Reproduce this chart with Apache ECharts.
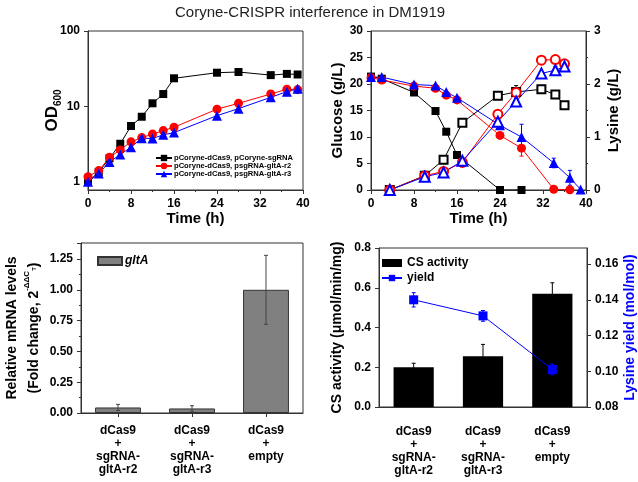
<!DOCTYPE html>
<html><head><meta charset="utf-8">
<script src="https://cdn.jsdelivr.net/npm/echarts@6/dist/echarts.min.js"></script>
<style>html,body{margin:0;padding:0;background:#fff}#c{width:638px;height:482px}</style>
</head><body><div id="c"></div>
<script>
const FONT = '"Liberation Sans", Arial, sans-serif';

// ---- Panel A: growth (OD600, log scale)
const timeA = [0, 2, 4, 6, 8, 10, 12, 14, 16, 24, 28, 34, 37, 39];
const odCtrl = [1.0, 1.35, 2.05, 3.2, 5.5, 7.3, 11, 14.6, 23.6, 28, 28.6, 26, 27, 26.5];
const odR2   = [1.17, 1.41, 2.12, 2.65, 3.39, 3.86, 4.3, 4.78, 5.3, 9.2, 11, 14.6, 16.9, 16.7];
const odR3   = [1.0, 1.29, 1.84, 2.3, 2.88, 3.8, 3.75, 4.2, 4.5, 7.55, 9.35, 13.2, 15.7, 17.2];
const odR3Err = [0, 0, 0, 0, 0, 0, 0, 0, 0, 0, 0, 0, 1.8, 1.5];
const namesA = ['pCoryne-dCas9, pCoryne-sgRNA', 'pCoryne-dCas9, psgRNA-gltA-r2', 'pCoryne-dCas9, psgRNA-gltA-r3'];

// ---- Panel B: glucose (filled) and lysine (open)
const tGluCtrl = [0, 2, 8, 12, 14, 16, 24, 28];
const gluCtrl  = [21.4, 21.0, 18.4, 14.9, 11.0, 6.6, 0, 0];
const tGluR2 = [0, 2, 8, 12, 14, 16, 24, 28, 34, 37];
const gluR2  = [21.2, 20.75, 19.6, 19.2, 17.9, 17.0, 10.3, 7.9, 0.15, 0.05];
const gluR2Err = [0, 0, 0, 0, 0, 0, 0.5, 1.5, 0, 0];
const tGluR3 = [0, 2, 8, 12, 14, 16, 24, 28, 34, 37, 39];
const gluR3  = [21.3, 21.3, 19.9, 19.7, 18.5, 17.4, 12.2, 10.0, 5.1, 2.3, 0.1];
const gluR3Err = [0, 0, 0, 0, 0, 0, 0.4, 2.4, 0.9, 1.4, 0];
const tLys = [3.5, 10, 13.5, 17, 23.6, 27, 31.7, 34.3, 36];
const lysCtrl = [0, 0.27, 0.57, 1.27, 1.78, 1.85, 1.9, 1.8, 1.6];
const lysCtrlErr = [0, 0, 0.03, 0.03, 0, 0.12, 0, 0, 0];
const lysR2 = [0, 0.27, 0.35, 0.52, 1.43, 1.84, 2.45, 2.46, 2.38];
const lysR2Err = [0, 0.03, 0, 0.04, 0, 0, 0, 0, 0.06];
const lysR3 = [0, 0.25, 0.33, 0.55, 1.29, 1.67, 2.2, 2.26, 2.33];
const lysR3Err = [0, 0.04, 0.03, 0, 0, 0, 0, 0.07, 0.07];

// ---- Panel C: relative mRNA levels
const strains = ['dCas9\n+\nsgRNA-\ngltA-r2', 'dCas9\n+\nsgRNA-\ngltA-r3', 'dCas9\n+\nempty'];
const mrna = [0.045, 0.037, 1.0];
const mrnaErr = [0.025, 0.022, 0.28];

// ---- Panel D: CS activity and lysine yield
const csAct = [0.2, 0.255, 0.57];
const csErr = [0.02, 0.06, 0.055];
const lysYield = [0.140, 0.131, 0.101];
const lysYieldErr = [0.004, 0.003, 0.003];

const BLACK = '#000000', RED = '#ff0000', BLUE = '#0000ff', AXC = '#333333';

function pairs(xs, ys) { return xs.map((x, i) => [x, ys[i]]); }
function triples(xs, ys, es) { return xs.map((x, i) => [x, ys[i], es[i]]); }

function errBars(xi, yi, data, color, cap, z) {
  return {
    type: 'custom', xAxisIndex: xi, yAxisIndex: yi, silent: true, z: z || 3,
    encode: { x: 0, y: 1 },
    renderItem: function (params, api) {
      const x = api.value(0), y = api.value(1), e = api.value(2);
      if (!e) return null;
      const p1 = api.coord([x, y + e]);
      const p2 = api.coord([x, y - e]);
      const st = { stroke: color, lineWidth: 1 };
      return { type: 'group', children: [
        { type: 'line', shape: { x1: p1[0], y1: p1[1], x2: p2[0], y2: p2[1] }, style: st },
        { type: 'line', shape: { x1: p1[0] - cap, y1: p1[1], x2: p1[0] + cap, y2: p1[1] }, style: st },
        { type: 'line', shape: { x1: p2[0] - cap, y1: p2[1], x2: p2[0] + cap, y2: p2[1] }, style: st }
      ]};
    },
    data: data
  };
}

const lbl = { color: '#000', fontWeight: 'bold', fontSize: 12, fontFamily: FONT };
const axLine = { show: true, lineStyle: { color: AXC, width: 1 } };
const tick = { show: true, length: 4, lineStyle: { color: AXC } };
const minor = { show: true, splitNumber: 2, length: 2, lineStyle: { color: AXC } };
const nameStyle = { color: '#000', fontWeight: 'bold', fontSize: 15, fontFamily: FONT };
const gridBox = { show: true, borderColor: AXC, borderWidth: 1, backgroundColor: 'transparent' };

function lineSeries(name, xi, yi, data, color, symbol, size) {
  return {
    type: 'line', name, xAxisIndex: xi, yAxisIndex: yi, data,
    symbol, symbolSize: size,
    lineStyle: { color, width: 1 },
    itemStyle: { color, borderColor: color, borderWidth: symbol.indexOf('empty') === 0 ? 1.2 : 0 },
    z: 4
  };
}

const option = {
  animation: false,
  backgroundColor: '#ffffff',
  title: {
    text: 'Coryne-CRISPR interference in DM1919',
    left: 170, top: 0,
    textStyle: { fontSize: 15, fontWeight: 'normal', color: '#222', fontFamily: FONT }
  },
  grid: [
    Object.assign({ left: 88, top: 31, width: 215, height: 159 }, gridBox),
    Object.assign({ left: 371, top: 31, width: 215, height: 159 }, gridBox),
    Object.assign({ left: 77, top: 243, width: 226, height: 170 }, gridBox),
    Object.assign({ left: 379, top: 248, width: 208, height: 159 }, gridBox)
  ],
  legend: [
    {
      data: namesA, left: 150, top: 149, orient: 'vertical', itemGap: 0,
      itemWidth: 16, itemHeight: 8,
      textStyle: { fontSize: 7.6, fontWeight: 'bold', color: '#000', fontFamily: FONT, padding: [0, 0, 0, -3] }
    },
    {
      data: [{ name: 'gltA', icon: 'rect' }], left: 92, top: 250, itemWidth: 24, itemHeight: 8,
      textStyle: { fontSize: 12, fontWeight: 'bold', fontStyle: 'italic', color: '#000', fontFamily: FONT, padding: [0, 0, 0, -2] }
    },
    {
      data: [{ name: 'CS activity', icon: 'rect' }, { name: 'yield' }], left: 376, top: 252,
      orient: 'vertical', itemGap: 3, itemWidth: 20, itemHeight: 8,
      textStyle: { fontSize: 12, fontWeight: 'bold', color: '#000', fontFamily: FONT }
    }
  ],
  xAxis: [
    { gridIndex: 0, type: 'value', min: 0, max: 40, interval: 8, axisLine: axLine, axisTick: tick,
      minorTick: minor, splitLine: { show: false }, axisLabel: lbl,
      name: 'Time (h)', nameLocation: 'middle', nameGap: 20, nameTextStyle: nameStyle },
    { gridIndex: 1, type: 'value', min: 0, max: 40, interval: 8, axisLine: axLine, axisTick: tick,
      minorTick: minor, splitLine: { show: false }, axisLabel: lbl,
      name: 'Time (h)', nameLocation: 'middle', nameGap: 20, nameTextStyle: nameStyle },
    { gridIndex: 2, type: 'category', data: strains, axisLine: axLine,
      axisTick: { show: true, alignWithLabel: true, length: 4, lineStyle: { color: AXC } },
      axisLabel: Object.assign({}, lbl, { interval: 0, lineHeight: 13, margin: 11 }) },
    { gridIndex: 3, type: 'category', data: strains, axisLine: axLine,
      axisTick: { show: false },
      axisLabel: Object.assign({}, lbl, { interval: 0, lineHeight: 13, margin: 18 }) }
  ],
  yAxis: [
    { gridIndex: 0, type: 'log', logBase: 10, min: 0.78, max: 100, axisLine: axLine, axisTick: tick,
      splitLine: { show: false }, axisLabel: Object.assign({}, lbl, { showMinLabel: false }),
      name: '{a|OD}{b|600}', nameLocation: 'middle', nameGap: 25, nameMoveOverlap: false,
      nameTextStyle: { rich: {
        a: { fontSize: 17, fontWeight: 'bold', color: '#000', fontFamily: FONT, lineHeight: 22 },
        b: { fontSize: 10, fontWeight: 'bold', color: '#000', fontFamily: FONT, verticalAlign: 'bottom', lineHeight: 22 } } } },
    { gridIndex: 1, type: 'value', min: 0, max: 30, interval: 5, axisLine: axLine, axisTick: tick,
      splitLine: { show: false }, axisLabel: lbl,
      name: 'Glucose (g/L)', nameLocation: 'middle', nameGap: 20, nameTextStyle: nameStyle },
    { gridIndex: 1, type: 'value', position: 'right', min: 0, max: 3, interval: 1, axisLine: axLine, axisTick: tick,
      minorTick: minor, splitLine: { show: false }, axisLabel: lbl,
      name: 'Lysine (g/L)', nameLocation: 'middle', nameGap: 20, nameTextStyle: nameStyle },
    { gridIndex: 2, type: 'value', min: 0, max: 1.38, interval: 0.25, axisLine: axLine, axisTick: tick,
      minorTick: minor, splitLine: { show: false },
      axisLabel: Object.assign({}, lbl, { showMaxLabel: false, formatter: v => v.toFixed(2) }),
      name: 'Relative mRNA levels\n(Fold change, 2{s|-ΔΔC}{t|T}{n|)}', nameLocation: 'middle', nameGap: 36,
      nameTextStyle: { color: '#000', fontWeight: 'bold', fontSize: 14, fontFamily: FONT, lineHeight: 22,
        rich: {
          s: { fontSize: 8, fontWeight: 'bold', color: '#000', fontFamily: FONT, verticalAlign: 'top', lineHeight: 20 },
          t: { fontSize: 6, fontWeight: 'bold', color: '#000', fontFamily: FONT, verticalAlign: 'middle', lineHeight: 20 },
          n: { fontSize: 14, fontWeight: 'bold', color: '#000', fontFamily: FONT, lineHeight: 20 } } } },
    { gridIndex: 3, type: 'value', min: 0, max: 0.8, interval: 0.2, axisLine: axLine, axisTick: tick,
      splitLine: { show: false }, axisLabel: Object.assign({}, lbl, { formatter: v => v.toFixed(1) }),
      name: 'CS activity (μmol/min/mg)', nameLocation: 'middle', nameGap: 35,
      nameTextStyle: Object.assign({}, nameStyle, { fontSize: 14 }) },
    { gridIndex: 3, type: 'value', position: 'right', min: 0.08, max: 0.169, interval: 0.02, axisLine: axLine, axisTick: tick,
      splitLine: { show: false }, axisLabel: Object.assign({}, lbl, { showMaxLabel: false, formatter: v => v.toFixed(2) }),
      name: 'Lysine yield (mol/mol)', nameLocation: 'middle', nameGap: 36,
      nameTextStyle: Object.assign({}, nameStyle, { fontSize: 14, color: BLUE }) }
  ],
  series: [
    // Panel A
    lineSeries(namesA[0], 0, 0, pairs(timeA, odCtrl), BLACK, 'rect', 8),
    lineSeries(namesA[1], 0, 0, pairs(timeA, odR2), RED, 'circle', 9),
    lineSeries(namesA[2], 0, 0, pairs(timeA, odR3), BLUE, 'triangle', 10),
    errBars(0, 0, triples(timeA, odR3, odR3Err), BLUE, 2),
    // Panel B glucose
    lineSeries('Glucose ctrl', 1, 1, pairs(tGluCtrl, gluCtrl), BLACK, 'rect', 8),
    lineSeries('Glucose r2', 1, 1, pairs(tGluR2, gluR2), RED, 'circle', 9),
    lineSeries('Glucose r3', 1, 1, pairs(tGluR3, gluR3), BLUE, 'triangle', 10),
    errBars(1, 1, triples(tGluR2, gluR2, gluR2Err), RED, 2),
    errBars(1, 1, triples(tGluR3, gluR3, gluR3Err), BLUE, 2),
    // Panel B lysine
    lineSeries('Lysine ctrl', 1, 2, pairs(tLys, lysCtrl), BLACK, 'emptyRect', 8),
    lineSeries('Lysine r2', 1, 2, pairs(tLys, lysR2), RED, 'emptyCircle', 9),
    lineSeries('Lysine r3', 1, 2, pairs(tLys, lysR3), BLUE, 'emptyTriangle', 10),
    errBars(1, 2, triples(tLys, lysCtrl, lysCtrlErr), BLACK, 2),
    errBars(1, 2, triples(tLys, lysR2, lysR2Err), RED, 2),
    errBars(1, 2, triples(tLys, lysR3, lysR3Err), BLUE, 2),
    // Panel C
    { type: 'bar', name: 'gltA', xAxisIndex: 2, yAxisIndex: 3, data: mrna, barWidth: '62%',
      itemStyle: { color: '#808080', borderColor: '#333', borderWidth: 1 } },
    errBars(2, 3, triples([0, 1, 2], mrna, mrnaErr), '#444', 2),
    // Panel D
    { type: 'bar', name: 'CS activity', xAxisIndex: 3, yAxisIndex: 4, data: csAct, barWidth: '58%',
      itemStyle: { color: '#000' } },
    errBars(3, 4, triples([0, 1, 2], csAct, csErr), '#000', 2, 1),
    { type: 'line', name: 'yield', xAxisIndex: 3, yAxisIndex: 5, data: lysYield,
      symbol: 'rect', symbolSize: 9, lineStyle: { color: BLUE, width: 1 }, itemStyle: { color: BLUE }, z: 5 },
    errBars(3, 5, triples([0, 1, 2], lysYield, lysYieldErr), BLUE, 2, 4)
  ]
};

const chart = echarts.init(document.getElementById('c'), null, { renderer: 'canvas' });
chart.setOption(option);
</script>
</body></html>
